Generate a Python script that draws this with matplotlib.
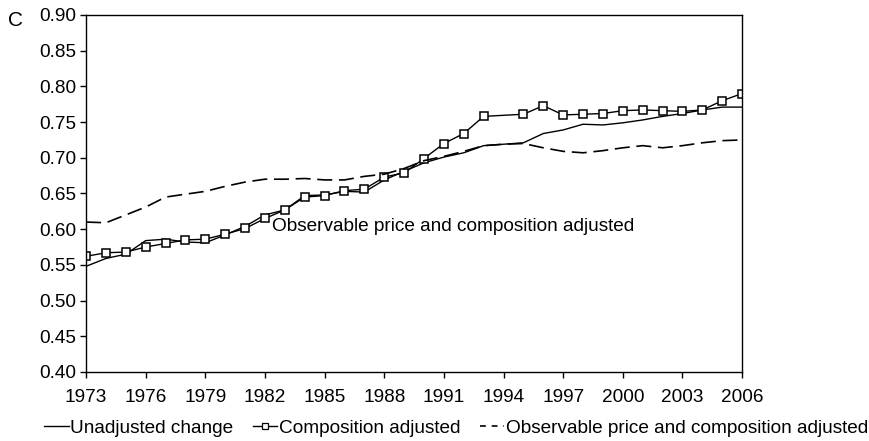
import numpy as np
import matplotlib.pyplot as plt
from matplotlib.lines import Line2D

plt.rcParams['font.family'] = ['Liberation Sans', 'DejaVu Sans']

# Years for the full-year series
years = list(range(1973, 2007))

# Unadjusted change (solid line)
unadjusted = [0.548, 0.559, 0.565, 0.584, 0.586, 0.582, 0.581, 0.592, 0.604, 0.620,
              0.627, 0.647, 0.648, 0.653, 0.652, 0.669, 0.681, 0.693, 0.701, 0.707,
              0.717, 0.719, 0.721, 0.734, 0.739, 0.747, 0.746, 0.749, 0.753, 0.758,
              0.762, 0.767, 0.771, 0.771]

# Composition adjusted (squares) - no marker drawn for 1994
comp_years = [y for y in years if y != 1994]
composition = [0.562, 0.567, 0.568, 0.575, 0.580, 0.585, 0.586, 0.593, 0.601, 0.615,
               0.627, 0.645, 0.647, 0.654, 0.656, 0.673, 0.679, 0.699, 0.720, 0.734,
               0.758, 0.761, 0.773, 0.760, 0.761, 0.762, 0.766, 0.767, 0.766, 0.765,
               0.767, 0.780, 0.790]

# Observable price and composition adjusted (dashed)
observable = [0.610, 0.609, 0.620, 0.631, 0.645, 0.649, 0.653, 0.660, 0.666, 0.670,
              0.670, 0.671, 0.669, 0.669, 0.674, 0.677, 0.685, 0.696, 0.702, 0.709,
              0.717, 0.719, 0.720, 0.714, 0.709, 0.707, 0.710, 0.714, 0.717, 0.714,
              0.717, 0.721, 0.724, 0.725]

labels = ['Unadjusted change', 'Composition adjusted',
          'Observable price and composition adjusted']
xticks = list(range(1973, 2007, 3))
yticks = [0.40, 0.45, 0.50, 0.55, 0.60, 0.65, 0.70, 0.75, 0.80, 0.85, 0.90]

fig = plt.figure(figsize=(8.69, 4.41), dpi=100)
ax = fig.add_axes([0.099, 0.1565, 0.755, 0.8095])

ax.plot(years, unadjusted, color='black', lw=1.0)
ax.plot(comp_years, composition, color='black', lw=1.0, marker='s', markersize=5.8,
        markerfacecolor='white', markeredgecolor='black', markeredgewidth=1.1)
ax.plot(years, observable, color='black', lw=1.2, dashes=(9, 4))

ax.text(1982.35, 0.604, 'Observable price and composition adjusted',
        fontsize=13.7, va='center', ha='left')

ax.set_xlim(1973, 2006)
ax.set_ylim(0.40, 0.90)
ax.set_xticks(xticks)
ax.set_yticks(yticks)
ax.set_yticklabels([f'{v:.2f}' for v in yticks])
ax.tick_params(axis='both', labelsize=13.7, direction='out', length=4, width=1)
ax.tick_params(axis='x', pad=8)
ax.tick_params(axis='y', pad=3)
for s in ax.spines.values():
    s.set_linewidth(1.0)

fig.text(0.009, 0.953, 'C', fontsize=15, va='center', ha='left')

# legend handles with shorter dashes, like the original
handles = [
    Line2D([], [], color='black', lw=1.0),
    Line2D([], [], color='black', lw=1.0, marker='s', markersize=4.5,
           markerfacecolor='white', markeredgecolor='black', markeredgewidth=0.9),
    Line2D([], [], color='black', lw=1.2, dashes=(3.5, 3.5)),
]
fig.legend(handles, labels, loc='lower center', bbox_to_anchor=(0.525, -0.03), ncol=3,
           frameon=False, fontsize=13.7, handlelength=1.3, handletextpad=0.1,
           columnspacing=1.0)

fig.savefig('out.png', dpi=100)
